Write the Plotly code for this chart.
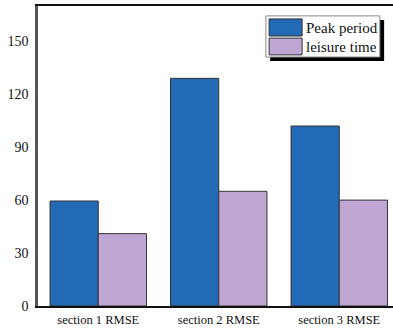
import plotly.graph_objects as go

categories = ["section 1 RMSE", "section 2 RMSE", "section 3 RMSE"]
peak_period = [59.5, 129, 102]
leisure_time = [41, 65, 60]
series_names = ["Peak period", "leisure time"]
colors = ["#236ab6", "#c0a6d3"]
ytick_vals = [0, 30, 60, 90, 120, 150]

FONT = "Liberation Serif"

fig = go.Figure()
for name, vals, col in zip(series_names, [peak_period, leisure_time], colors):
    fig.add_trace(go.Bar(
        x=list(range(len(categories))), y=vals, name=name,
        marker=dict(color=col, line=dict(color="#333333", width=1)),
    ))

fig.update_layout(
    width=393, height=330,
    margin=dict(l=38, r=0, t=6, b=24),
    paper_bgcolor="white", plot_bgcolor="white",
    barmode="group", bargap=0.2, bargroupgap=0,
    showlegend=False,
    font=dict(family=FONT, size=13, color="#111111"),
)
fig.update_xaxes(
    range=[-0.5, 2.446],
    tickmode="array", tickvals=list(range(len(categories))), ticktext=categories,
    tickfont=dict(size=12.5, family=FONT),
    showline=True, linecolor="#111111", linewidth=1.5, mirror=True,
    showgrid=False, zeroline=False, ticks="", ticklabelstandoff=1,
)
fig.update_yaxes(
    range=[0, 170],
    tickmode="array", tickvals=ytick_vals,
    tickfont=dict(size=14, family=FONT),
    showline=True, linecolor="#555555", linewidth=2.5,
    showgrid=False, zeroline=False, ticks="", ticklabelstandoff=4,
)

# custom legend (box with drop shadow, large swatches)
shapes = [
    dict(type="rect", xref="paper", yref="paper", x0=0.654, x1=0.975, y0=0.817, y1=0.953,
         fillcolor="black", line=dict(width=0)),
    dict(type="rect", xref="paper", yref="paper", x0=0.642, x1=0.963, y0=0.830, y1=0.967,
         fillcolor="white", line=dict(color="#888888", width=1)),
    dict(type="rect", xref="paper", yref="paper", x0=0.651, x1=0.744, y0=0.900, y1=0.957,
         fillcolor=colors[0], line=dict(color="#333333", width=1)),
    dict(type="rect", xref="paper", yref="paper", x0=0.651, x1=0.744, y0=0.837, y1=0.893,
         fillcolor=colors[1], line=dict(color="#333333", width=1)),
]
annotations = [
    dict(xref="paper", yref="paper", x=0.749, y=0.928, text=series_names[0], showarrow=False,
         xanchor="left", yanchor="middle", font=dict(size=15, family=FONT, color="#111111")),
    dict(xref="paper", yref="paper", x=0.749, y=0.865, text=series_names[1], showarrow=False,
         xanchor="left", yanchor="middle", font=dict(size=15, family=FONT, color="#111111")),
]
fig.update_layout(shapes=shapes, annotations=annotations)

fig.write_html(
    "out.html",
    config={"displayModeBar": False},
    post_script="document.body.style.margin='0px';document.body.style.overflow='hidden';",
)
